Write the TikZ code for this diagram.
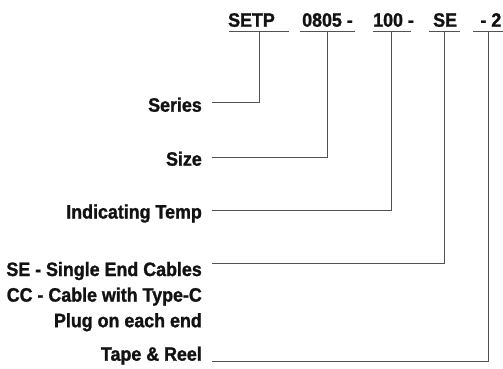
\documentclass[tikz,border=0pt]{standalone}
\usepackage{fontspec}
\setmainfont{Liberation Sans}[BoldFeatures={FakeStretch=0.92,FakeBold=1.3}]
\begin{document}
\begin{tikzpicture}[x=1pt,y=-1pt,
  lbl/.style={inner sep=0pt,font=\bfseries\fontsize{19.4}{25.6}\selectfont,text=black!93},
  conn/.style={draw=black!68,line width=0.9pt},
  uline/.style={draw=black!68,line width=0.9pt}]
\useasboundingbox (0,0) rectangle (503,368);
% header parts
\node[lbl,anchor=base west] (pSETP) at (228,26.7) {SETP};
\node[lbl,anchor=base west] (p0805) at (302,26.7) {0805 -};
\node[lbl,anchor=base west] (p100) at (373,26.7) {100 -};
\node[lbl,anchor=base west] (pSE) at (433,26.7) {SE};
\node[lbl,anchor=base east] (p2) at (501.5,26.7) {- 2};
% underline end points and connection points
\coordinate (u1w) at (229,31); \coordinate (u1e) at (289,31); \coordinate (u1) at (259,31);
\coordinate (u2w) at (300,31); \coordinate (u2e) at (355,31); \coordinate (u2) at (327,31);
\coordinate (u3w) at (373,31); \coordinate (u3e) at (411,31); \coordinate (u3) at (391,31);
\coordinate (u4w) at (429,31); \coordinate (u4e) at (460,31); \coordinate (u4) at (444,31);
\coordinate (u5w) at (473,31); \coordinate (u5e) at (503,31); \coordinate (u5) at (488,31);
\draw[uline] (u1w) -- (u1e);
\draw[uline] (u2w) -- (u2e);
\draw[uline] (u3w) -- (u3e);
\draw[uline] (u4w) -- (u4e);
\draw[uline] (u5w) -- (u5e);
% labels
\node[lbl,anchor=base east] (series) at (202,111.7) {Series};
\node[lbl,anchor=base east] (size) at (202,165.7) {Size};
\node[lbl,anchor=base east] (temp) at (202,218.5) {Indicating Temp};
\node[lbl,anchor=base east,align=right] (cable) at (202,327.2) {SE - Single End Cables\\CC - Cable with Type-C\\Plug on each end};
\node[lbl,anchor=base east] (tape) at (202,360.7) {Tape \& Reel};
% line starts
\coordinate (s1) at (212,102.5);
\coordinate (s2) at (212,157);
\coordinate (s3) at (212,210);
\coordinate (s4) at (212,263.3);
\coordinate (s5) at (212,361.5);
\draw[conn] (s1) -| (u1);
\draw[conn] (s2) -| (u2);
\draw[conn] (s3) -| (u3);
\draw[conn] (s4) -| (u4);
\draw[conn] (s5) -| (u5);
\end{tikzpicture}
\end{document}
